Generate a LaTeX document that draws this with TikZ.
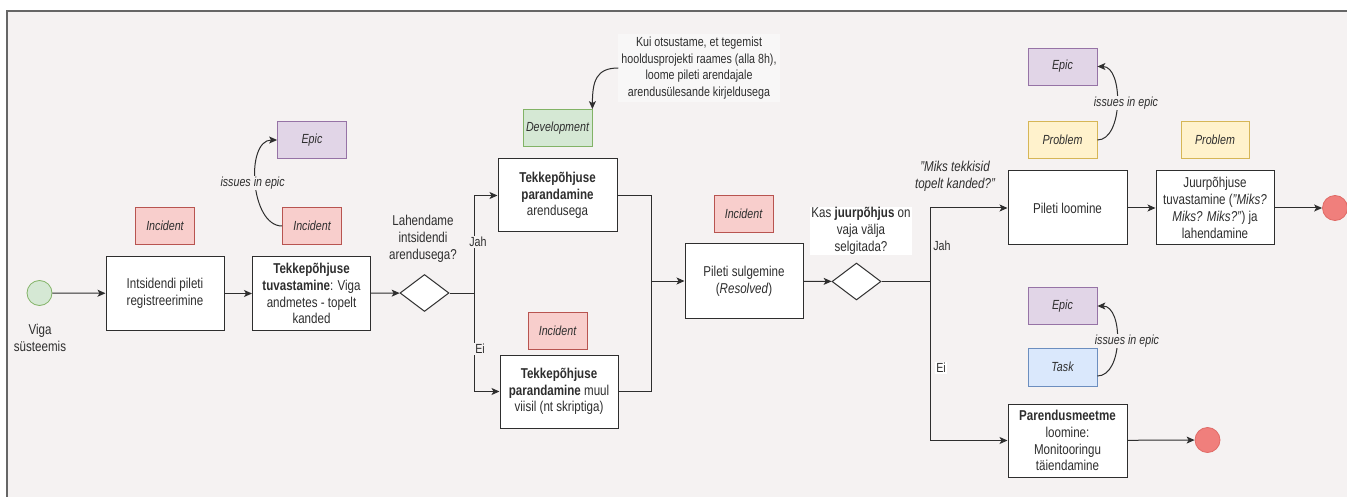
\documentclass[tikz,border=0pt]{standalone}
\usepackage{fontspec}
\setmainfont{Liberation Sans}[FakeStretch=0.81]
\usetikzlibrary{arrows.meta,shapes.geometric}

\definecolor{bg}{HTML}{F5F2F2}
\definecolor{frame}{HTML}{666666}
\definecolor{ink}{HTML}{2E2E2E}
\definecolor{incfill}{HTML}{F8CECC}\definecolor{incline}{HTML}{B85450}
\definecolor{epicfill}{HTML}{E1D5E7}\definecolor{epicline}{HTML}{9673A6}
\definecolor{devfill}{HTML}{D5E8D4}\definecolor{devline}{HTML}{82B366}
\definecolor{probfill}{HTML}{FFF2CC}\definecolor{probline}{HTML}{D6B656}
\definecolor{taskfill}{HTML}{DAE8FC}\definecolor{taskline}{HTML}{6C8EBF}
\definecolor{endfill}{HTML}{F07F7C}\definecolor{endline}{HTML}{E06A66}

\newcommand\mainfs{\fontsize{14.3}{16.8}\selectfont}
\newcommand\smallfs{\fontsize{13.2}{16.8}\selectfont}

\begin{document}
\begin{tikzpicture}[x=1pt,y=-1pt,
  every node/.style={text=ink},
  proc/.style={draw=ink, fill=white, line width=1pt, minimum width=118, minimum height=73,
    align=center, inner sep=1pt, font=\mainfs},
  tag/.style={line width=0.8pt, minimum width=69, minimum height=37, inner sep=0pt, font=\smallfs\itshape},
  incident/.style={tag, fill=incfill, draw=incline, minimum width=59},
  epic/.style={tag, fill=epicfill, draw=epicline},
  devel/.style={tag, fill=devfill, draw=devline},
  problem/.style={tag, fill=probfill, draw=probline},
  task/.style={tag, fill=taskfill, draw=taskline},
  gate/.style={diamond, draw=ink, fill=white, line width=1pt, aspect=1.32,
    minimum width=49, minimum height=37, inner sep=0pt},
  startev/.style={circle, draw=devline, fill=devfill, line width=0.8pt, minimum size=25, inner sep=0pt},
  endev/.style={circle, draw=endline, fill=endfill, line width=0.8pt, minimum size=25, inner sep=0pt},
  flow/.style={draw=ink, line width=1pt, -{Stealth[length=8pt,width=7pt,inset=2pt]}},
  plain/.style={draw=ink, line width=1pt},
  link/.style={draw=ink, line width=1pt, -{Stealth[length=8pt,width=7pt,inset=2pt]}},
  lbl/.style={font=\smallfs, inner sep=1pt},
  ask/.style={font=\mainfs, align=center, inner sep=1pt}
]
\useasboundingbox (0,0) rectangle (1347,497);

% canvas and frame
\fill[white] (0,0) rectangle (1347,497);
\fill[bg] (7,11) rectangle (1347,497);
\draw[frame, line width=1.2pt] (7,497) -- (7,11) -- (1347,11);

% start event and first steps
\node[startev] (start) at (39.5,293) {};
\node[lbl, font=\mainfs, align=center] (startlbl) at (40,338) {Viga\\süsteemis};

\node[proc] (reg) at (165,293.5) {Intsidendi pileti\\registreerimine};
\node[incident] (inc1) at (165,226) {Incident};

\node[proc] (cause) at (311.5,293.5) {\textbf{Tekkepõhjuse}\\\textbf{tuvastamine}: Viga\\andmetes - topelt\\kanded};
\node[incident] (inc2) at (312,226) {Incident};
\node[epic] (epic1) at (312,140) {Epic};

% first decision
\node[gate] (d1) at (424.5,293) {};
\node[ask] (q1) at (423,239) {Lahendame\\intsidendi\\arendusega?};
\coordinate (s1) at (474,293);

\node[proc, minimum width=119] (fixdev) at (557.5,195.5) {\textbf{Tekkepõhjuse}\\\textbf{parandamine}\\arendusega};
\node[devel] (dev) at (557.5,128) {Development};
\node[font=\smallfs, align=center, fill=white!35!bg, inner sep=3pt] (note) at (699,68)
  {Kui otsustame, et tegemist\\hooldusprojekti raames (alla 8h),\\loome pileti arendajale\\arendusülesande kirjeldusega};

\node[proc] (fixother) at (559,391.5) {\textbf{Tekkepõhjuse}\\\textbf{parandamine} muul\\viisil (nt skriptiga)};
\node[incident] (inc3) at (557.5,330.5) {Incident};
\coordinate (m1) at (651,281);

% closing
\node[proc, minimum height=74] (close) at (744,281) {Pileti sulgemine\\(\textit{Resolved})};
\node[incident] (inc4) at (743.5,214) {Incident};

% second decision
\node[gate] (d2) at (856.5,281.5) {};
\node[ask, fill=white] (q2) at (861,231) {Kas \textbf{juurpõhjus} on\\vaja välja\\selgitada?};
\coordinate (s2) at (930.5,281.5);
\node[ask, font=\mainfs\itshape] (why) at (955,176) {"Miks tekkisid\\topelt kanded?"};

% root cause branch
\node[proc, minimum width=119, minimum height=74] (ticket) at (1067.5,208) {Pileti loomine};
\node[problem] (prob1) at (1062.5,140) {Problem};
\node[epic] (epic2) at (1062.5,66.5) {Epic};
\node[proc, minimum height=74] (root) at (1215,208) {Juurpõhjuse\\tuvastamine (\textit{"Miks?}\\\textit{Miks? Miks?"}) ja\\lahendamine};
\node[problem, minimum width=68] (prob2) at (1215,140) {Problem};
\node[endev] (end1) at (1335,208) {};

% improvement branch
\node[epic] (epic3) at (1062.5,306) {Epic};
\node[task, minimum height=38] (task) at (1062.5,367) {Task};
\node[proc, minimum width=119] (improve) at (1067.5,440.5) {\textbf{Parendusmeetme}\\loomine:\\Monitooringu\\täiendamine};
\node[endev] (end2) at (1207.5,440) {};

% main flow
\draw[flow] (start) -- (reg);
\draw[flow] (reg) -- (cause);
\draw[flow] (cause) -- (d1);
\draw[plain] (d1.east) -- (s1);
\draw[flow] (s1) |- (fixdev.west);
\draw[flow] (s1) |- (fixother.west);
\node[lbl, fill=bg] (jah1) at (478,242) {Jah};
\node[lbl, fill=bg] (ei1) at (480,349) {Ei};
\draw[plain] (fixdev.east) -| (m1);
\draw[plain] (fixother.east) -| (m1);
\draw[flow] (m1) -- (close.west);
\draw[flow] (close) -- (d2);
\draw[plain] (d2.east) -- (s2);
\draw[flow] (s2) |- (ticket.west);
\draw[flow] (s2) |- (improve.west);
\node[lbl] (jah2) at (942,246) {Jah};
\node[lbl, fill=white] (ei2) at (941,368) {Ei};
\draw[flow] (ticket) -- (root);
\draw[flow] (root) -- (end1);
\draw[flow] (improve) -- (end2);

% issue links
\draw[link] (inc2.west) .. controls +(-32,0) and +(-32,0) .. (epic1.west)
  node[pos=0.5, lbl, font=\smallfs\itshape, fill=bg, xshift=-3pt] {issues in epic};
\draw[link] (prob1.east) .. controls +(26,0) and +(26,0) .. (epic2.east)
  node[pos=0.5, lbl, font=\smallfs\itshape, fill=bg, xshift=9pt] {issues in epic};
\draw[link] ([yshift=-9pt]task.east) .. controls +(26,0) and +(26,0) .. (epic3.east)
  node[pos=0.5, lbl, font=\smallfs\itshape, fill=bg, xshift=10pt] {issues in epic};
\draw[link] (note.west) .. controls +(-22,0) and +(0,-28) .. (dev.north east);
\end{tikzpicture}
\end{document}
